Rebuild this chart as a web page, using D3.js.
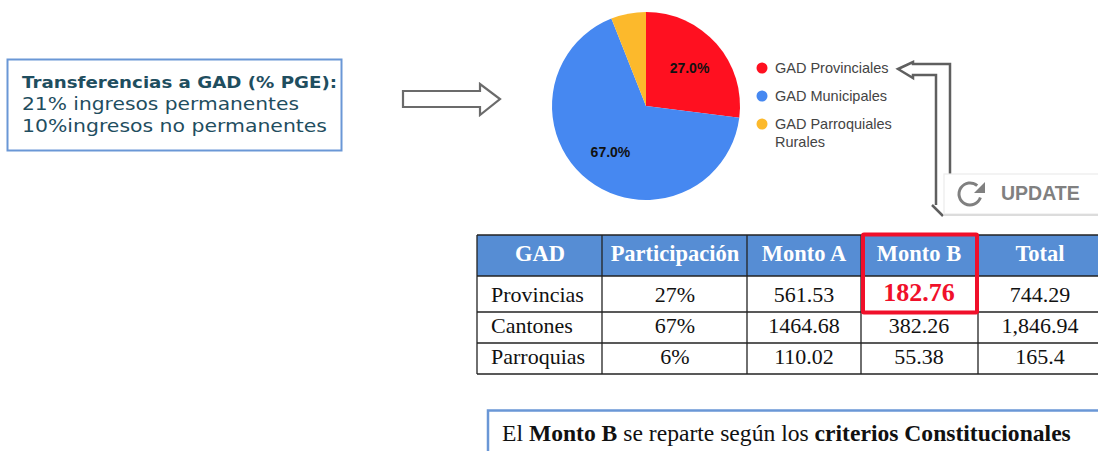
<!DOCTYPE html>
<html>
<head>
<meta charset="utf-8">
<script src="https://cdn.jsdelivr.net/npm/d3@7"></script>
<style>
	html, body { margin: 0; padding: 0; background: #fff; overflow: hidden; }
	svg { display: block; }
	.sans { font-family: "Liberation Sans", Arial, sans-serif; }
	.serif { font-family: "Liberation Serif", "Times New Roman", serif; }
	.note { font-family: "DejaVu Sans", sans-serif; fill: #1f4e5f; }
</style>
</head>
<body>
<svg id="chart" width="1098" height="451"></svg>
<script>
// pie
const gadNames = ["GAD Provinciales", "GAD Municipales", "GAD Parroquiales"];
const gadShares = [27, 67, 6];
const gadColors = ["#ff1020", "#4688f1", "#fcb92c"];
const shareLabels = ["27.0%", "67.0%", ""];

// table
const tableHeader = ["GAD", "Participación", "Monto A", "Monto B", "Total"];
const tableRegions = ["Provincias", "Cantones", "Parroquias"];
const tableShares = ["27%", "67%", "6%"];
const tableMontoA = ["561.53", "1464.68", "110.02"];
const tableMontoB = ["182.76", "382.26", "55.38"];
const tableTotal = ["744.29", "1,846.94", "165.4"];

const noteLines = ["Transferencias a GAD (% PGE):", "21% ingresos permanentes", "10%ingresos no permanentes"];

const svg = d3.select("#chart");

/* ---------------------- note box ---------------------- */

svg.append("rect")
	.attr("x", 7.5).attr("y", 59.5)
	.attr("width", 334).attr("height", 91)
	.attr("fill", "#fff").attr("stroke", "#6a97d6").attr("stroke-width", 2);

const noteWidths = [315, 277, 305];
const noteBaselines = [88, 110, 132];

noteLines.forEach((line, i) => {
	svg.append("text")
		.attr("class", "note")
		.attr("x", 22)
		.attr("y", noteBaselines[i])
		.attr("font-size", i == 0 ? 16 : 17.5)
		.attr("font-weight", i == 0 ? 700 : 400)
		.attr("textLength", noteWidths[i])
		.attr("lengthAdjust", "spacingAndGlyphs")
		.text(line);
});

// hollow arrow to the pie
svg.append("path")
	.attr("d", "M403,91 H480 V84 L500,99 L480,115 V107 H403 Z")
	.attr("fill", "#fff").attr("stroke", "#6b6b6b").attr("stroke-width", 2.2);

/* ------------------------ pie ------------------------- */

const pie = d3.pie().sort(null).value(d => d);
const arc = d3.arc().innerRadius(0).outerRadius(94);
const labelArc = d3.arc().innerRadius(58).outerRadius(58);

const pieGroup = svg.append("g").attr("transform", "translate(646,106)");
const slices = pie(gadShares);

pieGroup.selectAll("path")
	.data(slices)
	.enter().append("path")
	.attr("d", arc)
	.attr("fill", (d, i) => gadColors[i]);

pieGroup.selectAll("text")
	.data(slices)
	.enter().append("text")
	.attr("class", "sans")
	.attr("transform", d => "translate(" + labelArc.centroid(d) + ")")
	.attr("text-anchor", "middle")
	.attr("dy", "0.35em")
	.attr("font-size", 14)
	.attr("font-weight", 700)
	.attr("fill", "#111")
	.text((d, i) => shareLabels[i]);

/* ----------------------- legend ----------------------- */

const legendY = d3.scalePoint().domain(gadNames).range([68, 124]);

gadNames.forEach((name, i) => {
	svg.append("circle")
		.attr("cx", 762).attr("cy", legendY(name)).attr("r", 5.5)
		.attr("fill", gadColors[i]);
	svg.append("text")
		.attr("class", "sans")
		.attr("x", 775).attr("y", legendY(name) + 5)
		.attr("font-size", 14.5).attr("fill", "#444")
		.text(name);
});
svg.append("text")
	.attr("class", "sans")
	.attr("x", 775).attr("y", 147)
	.attr("font-size", 14.5).attr("fill", "#444")
	.text("Rurales");

/* ------------------- update + elbow ------------------- */

svg.append("path")
	.attr("d", "M950,178 V64 H913 V62 L898,69 L913,78 V75 H936 V205 M932,205 L943,216")
	.attr("fill", "none").attr("stroke", "#5f5f5f").attr("stroke-width", 2.5);

svg.append("rect")
	.attr("x", 944).attr("y", 174)
	.attr("width", 170).attr("height", 40)
	.attr("fill", "#fff").attr("stroke", "#ececec").attr("stroke-width", 1.2);
svg.append("line")
	.attr("x1", 944).attr("x2", 1098)
	.attr("y1", 215).attr("y2", 215)
	.attr("stroke", "#dcdcdc").attr("stroke-width", 2);

svg.append("path")
	.attr("d", d3.arc().innerRadius(9.5).outerRadius(12.5).startAngle(1.9).endAngle(7.0)())
	.attr("transform", "translate(970,194)")
	.attr("fill", "#808080");
svg.append("path")
	.attr("d", "M974,193 H985 V182 Z")
	.attr("fill", "#808080");

svg.append("text")
	.attr("class", "sans")
	.attr("x", 1001).attr("y", 200)
	.attr("font-size", 19.5).attr("font-weight", 700).attr("fill", "#808080")
	.text("UPDATE");

/* ----------------------- table ------------------------ */

const columnEdges = [477, 602, 747, 861, 978, 1105];
const rowEdges = [235, 276, 312, 343, 374];
const tableColumns = [tableRegions, tableShares, tableMontoA, tableMontoB, tableTotal];

const table = svg.append("g");

table.append("rect")
	.attr("x", columnEdges[0]).attr("y", rowEdges[0])
	.attr("width", columnEdges[5] - columnEdges[0])
	.attr("height", rowEdges[1] - rowEdges[0])
	.attr("fill", "#568dd4");

rowEdges.forEach(y => {
	table.append("line")
		.attr("x1", columnEdges[0]).attr("x2", 1098)
		.attr("y1", y).attr("y2", y)
		.attr("stroke", "#222").attr("stroke-width", 1.3);
});
columnEdges.forEach(x => {
	table.append("line")
		.attr("x1", x).attr("x2", x)
		.attr("y1", rowEdges[0]).attr("y2", rowEdges[4])
		.attr("stroke", "#222").attr("stroke-width", 1.3);
});

const columnMiddles = [540, 675, 804, 919, 1040];
const rowBaselines = [302, 333, 364];

tableHeader.forEach((label, i) => {
	table.append("text")
		.attr("class", "serif")
		.attr("x", columnMiddles[i]).attr("y", 261)
		.attr("text-anchor", "middle")
		.attr("font-size", 22.5).attr("font-weight", 700).attr("fill", "#fff")
		.text(label);
});

tableColumns.forEach((column, c) => {
	column.forEach((value, r) => {
		let highlighted = (c == 3 && r == 0);
		table.append("text")
			.attr("class", "serif")
			.attr("x", c == 0 ? 491 : columnMiddles[c])
			.attr("y", rowBaselines[r] - (highlighted ? 1.5 : 0))
			.attr("text-anchor", c == 0 ? "start" : "middle")
			.attr("font-size", highlighted ? 26 : 22)
			.attr("font-weight", highlighted ? 700 : 400)
			.attr("fill", highlighted ? "#f0102a" : "#111")
			.text(value);
	});
});

// red frame round Monto B
table.append("rect")
	.attr("x", 863).attr("y", 234.5)
	.attr("width", 114).attr("height", 78)
	.attr("rx", 1)
	.attr("fill", "none").attr("stroke", "#f0102a").attr("stroke-width", 4);

/* --------------------- bottom note -------------------- */

svg.append("path")
	.attr("d", "M488,451 V410.5 H1098")
	.attr("fill", "none").attr("stroke", "#6a97d6").attr("stroke-width", 2.5);

const bottomNote = svg.append("text")
	.attr("class", "serif")
	.attr("x", 502).attr("y", 441)
	.attr("font-size", 23.6).attr("fill", "#111");
bottomNote.append("tspan").text("El ");
bottomNote.append("tspan").attr("font-weight", 700).text("Monto B");
bottomNote.append("tspan").text(" se reparte según los ");
bottomNote.append("tspan").attr("font-weight", 700).text("criterios Constitucionales");
</script>
</body>
</html>
